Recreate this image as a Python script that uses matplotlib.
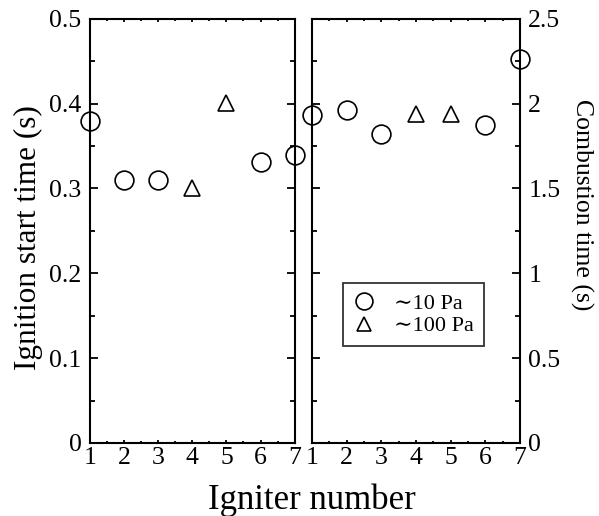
import matplotlib.pyplot as plt
from matplotlib.ticker import MultipleLocator

plt.rcParams['font.family'] = ['Liberation Serif', 'DejaVu Serif']

# ignition start time (left panel)
ign_x10 = [1, 2, 3, 6, 7]
ign_y10 = [0.380, 0.310, 0.310, 0.331, 0.340]
ign_x100 = [4, 5]
ign_y100 = [0.301, 0.401]

# combustion time (right panel)
comb_x10 = [1, 2, 3, 6, 7]
comb_y10 = [1.934, 1.963, 1.822, 1.873, 2.262]
comb_x100 = [4, 5]
comb_y100 = [1.938, 1.938]

labels = ['\u223c10 Pa', '\u223c100 Pa']
xticks = [1, 2, 3, 4, 5, 6, 7]

fig = plt.figure(figsize=(5.99, 5.16), dpi=100)
ax1 = fig.add_axes([0.150, 0.1415, 0.342, 0.822])
ax2 = fig.add_axes([0.521, 0.1415, 0.347, 0.822])

circ = dict(marker='o', linestyle='none', markersize=13.5, markerfacecolor='none',
            markeredgecolor='black', markeredgewidth=1.2, clip_on=False)
tri = dict(marker='^', linestyle='none', markersize=11.5, markerfacecolor='none',
           markeredgecolor='black', markeredgewidth=1.2, clip_on=False)

ax1.plot(ign_x10, ign_y10, **circ)
ax1.plot(ign_x100, ign_y100, **tri)
ax2.plot(comb_x10, comb_y10, label=labels[0], **circ)
ax2.plot(comb_x100, comb_y100, label=labels[1], **tri)

ax1.set_xlim(1, 7)
ax1.set_ylim(0, 0.5)
ax2.set_xlim(1, 7)
ax2.set_ylim(0, 2.5)

for ax in (ax1, ax2):
    ax.set_xticks(xticks)
    ax.xaxis.set_minor_locator(MultipleLocator(0.5))
    for sp in ax.spines.values():
        sp.set_linewidth(1.5)
    ax.tick_params(which='both', direction='in', top=True, right=True, left=True,
                   labelsize=18.5, width=1.3)
    ax.tick_params(axis='y', which='major', length=6, pad=6)
    ax.tick_params(axis='y', which='minor', length=3.5)
    ax.tick_params(axis='x', which='major', length=2, pad=3)
    ax.tick_params(axis='x', which='minor', length=1.5)

ax1.set_yticks([0, 0.1, 0.2, 0.3, 0.4, 0.5])
ax1.set_yticklabels(['0', '0.1', '0.2', '0.3', '0.4', '0.5'])
ax1.yaxis.set_minor_locator(MultipleLocator(0.05))

ax2.set_yticks([0, 0.5, 1, 1.5, 2, 2.5])
ax2.set_yticklabels(['0', '0.5', '1', '1.5', '2', '2.5'])
ax2.yaxis.set_minor_locator(MultipleLocator(0.25))
ax2.tick_params(axis='y', which='both', labelleft=False, labelright=True)

# axis titles
fig.text(28 / 599, 1 - 237.5 / 516, 'Ignition start time (s)', fontsize=22.5,
         rotation=90, ha='center', va='center')
fig.text(582 / 599, 1 - 205 / 516, 'Combustion time (s)', fontsize=18.5,
         rotation=270, ha='center', va='center')
fig.text(0.52, 0.031, 'Igniter number', fontsize=25, ha='center', va='center')

leg = ax2.legend(loc='upper left', bbox_to_anchor=(0.149, 0.377), fontsize=16,
                 frameon=True, fancybox=False, handletextpad=0.85, borderpad=0.45,
                 labelspacing=0.1, handlelength=1.0, borderaxespad=0, markerscale=0.9)
leg.get_frame().set_edgecolor('black')
leg.get_frame().set_linewidth(1.3)

fig.savefig('out.png', dpi=100)
